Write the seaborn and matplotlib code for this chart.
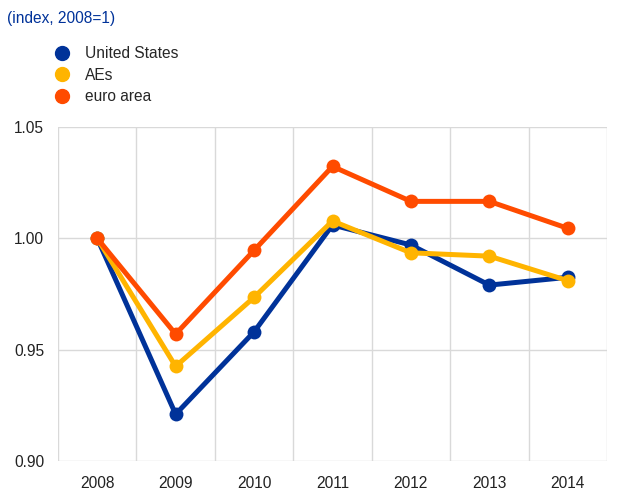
import pandas as pd
import numpy as np
import seaborn as sns
import matplotlib.pyplot as plt
from matplotlib.lines import Line2D

years = [2008, 2009, 2010, 2011, 2012, 2013, 2014]
united_states = [1.000, 0.921, 0.958, 1.006, 0.997, 0.979, 0.9825]
aes = [1.000, 0.9425, 0.9735, 1.0078, 0.9935, 0.992, 0.981]
euro_area = [1.000, 0.957, 0.9946, 1.0323, 1.0166, 1.0166, 1.0045]

series_names = ["United States", "AEs", "euro area"]
colors = ["#003299", "#FFB400", "#FF4B00"]

df = pd.DataFrame({
    "year": years * 3,
    "value": united_states + aes + euro_area,
    "series": sum([[n] * len(years) for n in series_names], []),
})

sns.set_style("white")
plt.rcParams["font.family"] = ["Liberation Sans", "DejaVu Sans"]

fig = plt.figure(figsize=(6.19, 4.92), dpi=100)
ax = fig.add_axes([58 / 619, 1 - 461 / 492, (607 - 58) / 619, (461 - 127) / 492])

sns.lineplot(data=df, x="year", y="value", hue="series", hue_order=series_names,
             palette=colors, marker="o", markersize=10, markeredgewidth=0,
             linewidth=3.6, legend=False, ax=ax)

ax.set_xlim(2007.5, 2014.5)
ax.set_ylim(0.90, 1.05)
ax.set_yticks([0.90, 0.95, 1.00, 1.05])
ax.set_yticklabels(["0.90", "0.95", "1.00", "1.05"])
ax.set_xticks(years)
ax.set_xticks(np.arange(2007.5, 2015, 1), minor=True)
ax.grid(False)
ax.grid(axis="y", which="major", color="#d9d9d9", linewidth=1)
ax.grid(axis="x", which="minor", color="#d9d9d9", linewidth=1)
ax.tick_params(axis="both", which="both", length=0, labelsize=11.2, colors="#222222")
ax.tick_params(axis="y", pad=10)
ax.tick_params(axis="x", pad=11)
ax.set_xlabel("")
ax.set_ylabel("")
for s in ax.spines.values():
    s.set_visible(False)
ax.set_axisbelow(True)

fig.text(7 / 619, 1 - 18 / 492, "(index, 2008=1)", color="#003299", fontsize=11.2, va="center")

handles = [Line2D([], [], marker="o", linestyle="", color=c, markersize=10) for c in colors]
fig.legend(handles, series_names, loc="upper left", bbox_to_anchor=(54 / 619, 1 - 46 / 492),
           frameon=False, fontsize=11.2, handletextpad=1.0, labelspacing=0.42,
           handlelength=1.0, borderaxespad=0, borderpad=0)

plt.savefig("out.png", dpi=100)
plt.close()
